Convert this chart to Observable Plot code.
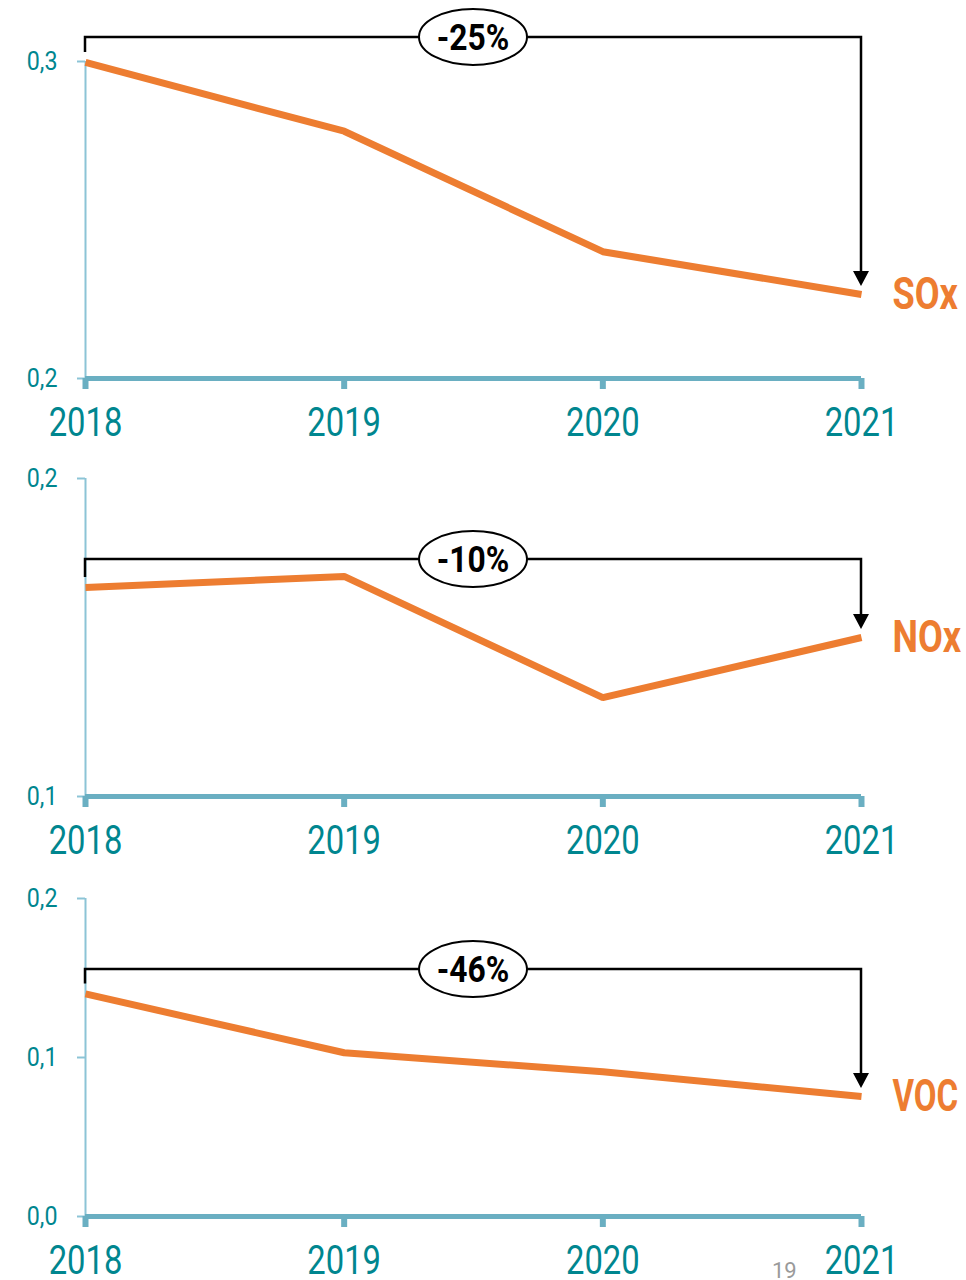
<!DOCTYPE html>
<html><head><meta charset="utf-8">
<script src="https://cdn.jsdelivr.net/npm/d3@7"></script>
<script src="https://cdn.jsdelivr.net/npm/@observablehq/plot@0.6"></script>
<style>
body{margin:0;background:#fff;width:966px;height:1280px;overflow:hidden;position:relative;font-family:Roboto}
#charts svg{display:block;overflow:visible}
#page{position:absolute;left:772px;top:1260px;font-size:22px;color:#9a9a9a;font-family:Roboto;line-height:1}
</style></head><body>
<div id="charts"></div>
<div id="page">19</div>
<script>
const years = [2018, 2019, 2020, 2021];
const sox = [0.2997, 0.278, 0.240, 0.2265];
const nox = [0.1657, 0.1692, 0.1311, 0.150];
const voc = [0.140, 0.103, 0.091, 0.0755];
const pollutants = ["SOx", "NOx", "VOC"];
const changes = ["-25%", "-10%", "-46%"];
const yDomains = [[0.2, 0.3], [0.1, 0.2], [0.0, 0.2]];
const yTicks = [[0.2, 0.3], [0.1, 0.2], [0.0, 0.1, 0.2]];
const bracketLevels = [0.3076, 0.1745, 0.1553];
const series = [sox, nox, voc];

const heights = [450, 420, 410];
const marginTops = [61, 28, 28];
const marginBottoms = [72, 74, 64];
const labelCondense = [0.82, 0.82, 0.75];

const ORANGE = "#ed7d31", TEAL = "#00868f", AXIS = "#6aafc2", YAXIS = "#8cc4d6";

function bracket(values, level, label) {
  return (index, scales) => {
    const x = scales.x, y = scales.y;
    const x0 = x(years[0]), x1 = x(years[years.length - 1]);
    const yb = y(level);
    const yStart = y(values[0]) - 10;
    const yTip = y(values[values.length - 1]) - 8;
    const g = d3.create("svg:g");
    g.append("path")
      .attr("d", `M${x0},${yStart}V${yb}H${x1}V${yTip - 12}`)
      .attr("fill", "none").attr("stroke", "#000").attr("stroke-width", 2.5);
    g.append("path")
      .attr("d", `M${x1 - 8},${yTip - 15}L${x1 + 8},${yTip - 15}L${x1},${yTip}Z`)
      .attr("fill", "#000");
    const cx = (x0 + x1) / 2;
    g.append("ellipse").attr("cx", cx).attr("cy", yb).attr("rx", 54).attr("ry", 28)
      .attr("fill", "#fff").attr("stroke", "#000").attr("stroke-width", 2);
    g.append("text").attr("x", cx).attr("y", yb).attr("dy", "0.36em")
      .attr("text-anchor", "middle").attr("font-weight", "bold").attr("font-size", 37)
      .attr("fill", "#000").attr("data-cond", "0.86").text(label);
    return g.node();
  };
}

const container = document.getElementById("charts");
series.forEach((vals, i) => {
  const data = years.map((yr, j) => ({year: yr, value: vals[j]}));
  const last = data[data.length - 1];
  const plot = Plot.plot({
    width: 966,
    height: heights[i],
    marginLeft: 85,
    marginRight: 105,
    marginTop: marginTops[i],
    marginBottom: marginBottoms[i],
    style: {fontFamily: "Roboto", background: "#fff", overflow: "visible"},
    x: {domain: [years[0], years[years.length - 1]]},
    y: {domain: yDomains[i]},
    marks: [
      Plot.ruleX([years[0]], {stroke: YAXIS, strokeWidth: 2}),
      Plot.axisY({ticks: yTicks[i], tickFormat: d => d.toFixed(1).replace(".", ","),
        tickSize: 8, tickPadding: 20, fontSize: 25, stroke: YAXIS, strokeWidth: 2, fill: TEAL, label: null}),
      Plot.ruleY([yDomains[i][0]], {stroke: AXIS, strokeWidth: 5}),
      Plot.axisX({ticks: years, tickFormat: d => String(d), tickSize: 11, tickPadding: 18,
        fontSize: 40, stroke: AXIS, strokeWidth: 6, fill: TEAL, label: null}),
      Plot.line(data, {x: "year", y: "value", stroke: ORANGE, strokeWidth: 7,
        strokeLinecap: "butt", strokeLinejoin: "miter"}),
      Plot.text([last], {x: "year", y: "value", text: () => pollutants[i], dx: 31,
        textAnchor: "start", fontSize: 44, fontWeight: "bold", fill: ORANGE}),
      bracket(vals, bracketLevels[i], changes[i])
    ]
  });
  plot.querySelectorAll('g[aria-label="y-axis tick label"] text').forEach(t => t.setAttribute("data-cond", "0.93"));
  plot.querySelectorAll('g[aria-label="text"] text').forEach(t => t.setAttribute("data-cond", String(labelCondense[i])));
  container.appendChild(plot);
});

document.querySelectorAll("#charts svg text").forEach(t => {
  const r = +(t.getAttribute("data-cond") || 0.82);
  const b = t.getBBox();
  if (b.width <= 0) return;
  const anchor = getComputedStyle(t).textAnchor;
  const ax = anchor === "middle" ? b.x + b.width / 2 : anchor === "end" ? b.x + b.width : b.x;
  const prev = t.getAttribute("transform") || "";
  t.setAttribute("transform", `${prev} translate(${ax},0) scale(${r},1) translate(${-ax},0)`.trim());
});
</script>
</body></html>
